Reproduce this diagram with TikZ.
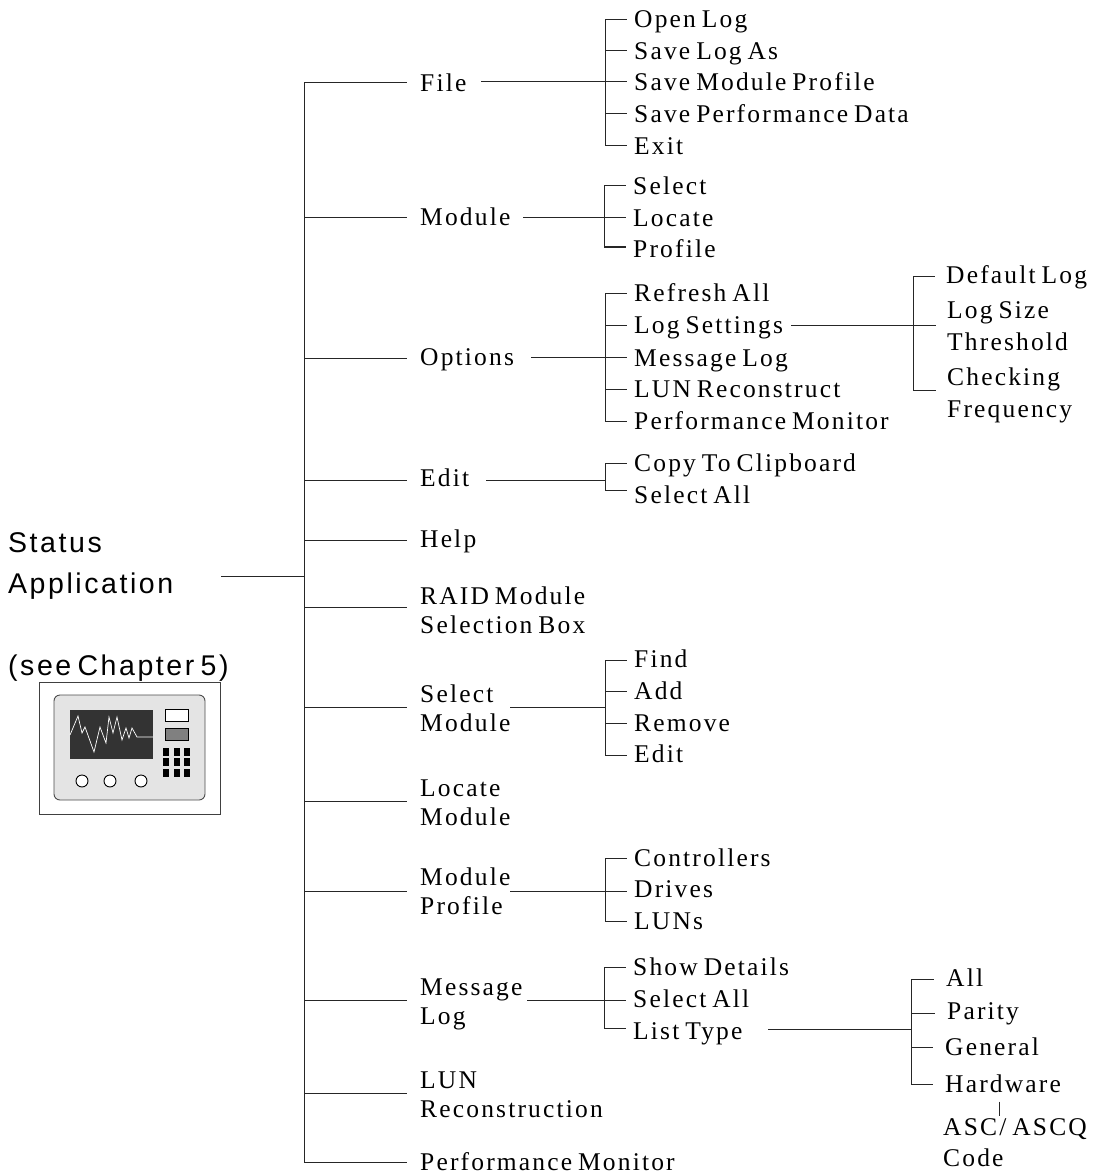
\documentclass[tikz,border=0pt]{standalone}
\usepackage{fontspec}
\setmainfont[LetterSpace=8.5,WordSpace=0.7]{Liberation Serif}
\newfontfamily\labelsans[LetterSpace=9,WordSpace=0.6]{Liberation Sans}
\definecolor{devbody}{HTML}{E4E4E4}
\definecolor{devscreen}{HTML}{333333}
\definecolor{devgray}{HTML}{808080}
\tikzset{
  wire/.style={line width=1pt,black!85},
  lab/.style={anchor=west,inner xsep=#1,inner ysep=0pt,align=left,text height=17pt,text depth=0pt,
    font=\fontsize{25.5}{29}\selectfont},
  lab/.default=7pt,
  sidelab/.style={anchor=west,inner sep=0pt,align=left,font=\labelsans\fontsize{28.5}{41}\selectfont},
}
% name, junction x, line y, text x, text y (of the last line), text, gap
\newcommand{\branch}[7][7]{%
  \coordinate (#2j) at (#3,#4);
  \node[lab=#1pt] (#2) at ({#5-#1},#6) {#7};
  \draw[wire] (#2j) -- (#2j -| #2.west);
}
% node, junction name, junction x, y, shift from the node's west side
\newcommand{\stem}[5]{%
  \coordinate (#2) at (#3,#4);
  \draw[wire] ([xshift=#5pt]#1.west |- #2) -- (#2);
}
\begin{document}
\begin{tikzpicture}[x=1pt,y=-1pt]
\useasboundingbox (0,0) rectangle (1094,1174);
% main trunk
\branch[13]{file}{304}{83}{420}{83}{File}
\branch[13]{module}{304}{218}{420}{217}{Module}
\branch[13]{options}{304}{358}{420}{357}{Options}
\branch[13]{edit}{304}{480}{420}{478}{Edit}
\branch[13]{help}{304}{540}{420}{539}{Help}
\branch[13]{raid}{304}{607}{420}{625}{RAID Module\\Selection Box}
\branch[13]{select}{304}{707}{420}{723}{Select\\Module}
\branch[13]{locate}{304}{801}{420}{817}{Locate\\Module}
\branch[13]{profile}{304}{891}{420}{906}{Module\\Profile}
\branch[13]{msglog}{304}{1000}{420}{1016}{Message\\Log}
\branch[13]{lun}{304}{1093}{420}{1109}{LUN\\Reconstruction}
\branch[13]{perf}{304}{1162}{420}{1162}{Performance Monitor}
\draw[wire] (filej) -- (perfj);
% status application
\node[sidelab] (status) at (8,566) {Status\\Application};
\node[sidelab] (chapter) at (8,668) {(see Chapter 5)};
\stem{status}{statusj}{304}{576}{213}
% file
\branch{openlog}{605}{20}{634}{19}{Open Log}
\branch{savelog}{605}{51}{634}{51}{Save Log As}
\branch{saveprof}{605}{82}{634}{82}{Save Module Profile}
\branch{saveperf}{605}{114}{634}{114}{Save Performance Data}
\branch{exit}{605}{146}{634}{146}{Exit}
\draw[wire] (openlogj) -- (exitj);
\stem{file}{filebr}{605}{82}{74}
% module
\branch{modsel}{604}{186}{633}{186}{Select}
\branch{modloc}{604}{218}{633}{218}{Locate}
\branch{modpro}{604}{247}{633}{249}{Profile}
\draw[wire] (modselj) -- (modproj);
\stem{module}{modulebr}{604}{218}{116}
% options
\branch{refresh}{605}{293}{634}{293}{Refresh All}
\branch{logset}{605}{325}{634}{325}{Log Settings}
\branch{msg}{605}{357}{634}{358}{Message Log}
\branch{lunrec}{605}{389}{634}{389}{LUN Reconstruct}
\branch{perfmon}{605}{421}{634}{421}{Performance Monitor}
\draw[wire] (refreshj) -- (perfmonj);
\stem{options}{optionsbr}{605}{357}{124}
% log settings
\branch[11]{deflog}{913}{276}{946}{275}{Default Log}
\branch[11]{logsize}{913}{325}{947}{342}{Log Size\\[3pt]Threshold}
\branch[11]{checking}{913}{390}{947}{409}{Checking\\[3pt]Frequency}
\draw[wire] (deflogj) -- (checkingj);
\stem{logset}{logsetbr}{913}{325}{164}
% edit
\branch{copy}{605}{463}{634}{463}{Copy To Clipboard}
\branch{selall}{605}{490}{634}{495}{Select All}
\draw[wire] (copyj) -- (selallj);
\stem{edit}{editbr}{605}{480}{79}
% select module
\branch{find}{605}{660}{634}{659}{Find}
\branch{add}{605}{691}{634}{691}{Add}
\branch{remove}{605}{723}{634}{723}{Remove}
\branch{editm}{605}{755}{634}{754}{Edit}
\draw[wire] (findj) -- (editmj);
\stem{select}{selectbr}{605}{707}{103}
% module profile
\branch{ctrl}{605}{858}{634}{858}{Controllers}
\branch{drives}{605}{891}{634}{889}{Drives}
\branch{luns}{605}{921}{634}{921}{LUNs}
\draw[wire] (ctrlj) -- (lunsj);
\stem{profile}{profilebr}{605}{891}{103}
% message log
\branch{details}{604}{967}{633}{967}{Show Details}
\branch{msgall}{604}{1000}{633}{999}{Select All}
\branch{listtype}{604}{1028}{633}{1031}{List Type}
\draw[wire] (detailsj) -- (listtypej);
\stem{msglog}{msglogbr}{604}{1000}{120}
% list type
\branch[12]{all}{911}{979}{946}{978}{All}
\branch[12]{parity}{911}{1013}{947}{1011}{Parity}
\branch[12]{general}{911}{1047}{945}{1047}{General}
\branch[12]{hardware}{911}{1084}{945}{1084}{Hardware}
\draw[wire] (allj) -- (hardwarej);
\stem{listtype}{listbr}{911}{1029}{142}
% ASC
\node[lab=0pt] (asc) at (943,1158) {ASC/ ASCQ\\[2pt]Code};
\coordinate (ascj) at (999,1116);
\draw[line width=0.8pt,black!85] (hardware.south -| ascj) ++(0,9) -- (ascj);
% device icon
\draw[line width=0.9pt,black!75] (39,682) rectangle (220,814);
\draw[line width=0.9pt,black!70,fill=devbody,rounded corners=6pt] (54,695) rectangle (205,800);
\fill[devscreen] (70,710) rectangle (153,759);
\draw[white,line width=0.7pt] (70,735) -- (78,716) -- (82,733) -- (85,727) -- (94,752) -- (100,727) -- (106,743) -- (109,717) -- (113,733) -- (117,717) -- (122,740) -- (126,728) -- (129,738) -- (132,728) -- (137,737) -- (153,737);
\draw[line width=0.9pt,fill=white] (165,709) rectangle (188,721);
\draw[line width=0.9pt,fill=devgray] (165,728) rectangle (188,740);
\foreach \bx in {163,174,184}
  \foreach \by in {748,758,769}
    \fill[black] (\bx,\by) rectangle (\bx+6,\by+8);
\foreach \cx in {82,110,141}
  \draw[line width=0.9pt,fill=white] (\cx,781) circle (6);
\end{tikzpicture}
\end{document}
